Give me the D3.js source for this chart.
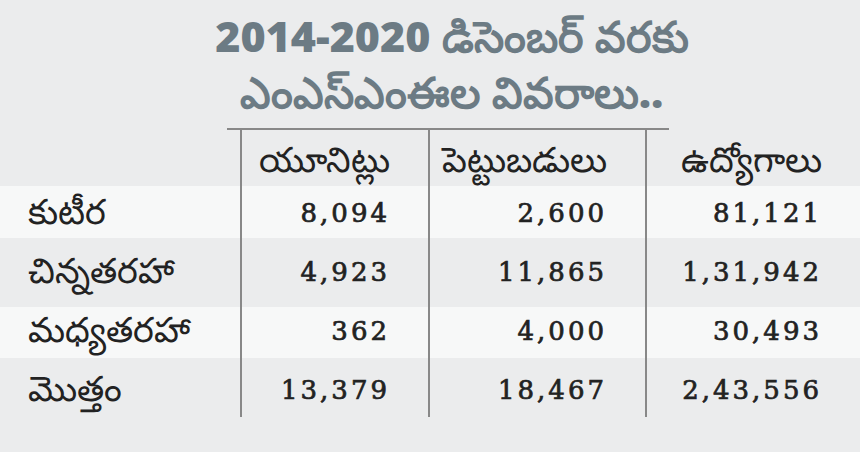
<!DOCTYPE html><html><head><meta charset="utf-8"><script src="https://cdn.jsdelivr.net/npm/d3@7"></script>
<style>body{margin:0;background:#ebeced}</style></head><body><svg id="c" width="860" height="452"></svg>
<script>
const titleLines=["2014-2020 డిసెంబర్ వరకు","ఎంఎస్‌ఎంఈల వివరాలు.."];
const columns=["యూనిట్లు","పెట్టుబడులు","ఉద్యోగాలు"];
const categories=["కుటీర","చిన్నతరహా","మధ్యతరహా","మొత్తం"];
const units=["8,094","4,923","362","13,379"];
const investments=["2,600","11,865","4,000","18,467"];
const jobs=["81,121","1,31,942","30,493","2,43,556"];
const svg=d3.select("#c");
svg.append("rect").attr("width",860).attr("height",452).attr("fill","#ebeced");
const bands=[[186,238,"#f7f8f8"],[238,307,"#ebeced"],[307,358,"#f7f8f8"]];
svg.selectAll(".b").data(bands).join("rect").attr("x",0).attr("width",860).attr("y",d=>d[0]).attr("height",d=>d[1]-d[0]).attr("fill",d=>d[2]);
svg.selectAll(".t").data(titleLines).join("text").attr("x",452).attr("y",(d,i)=>52+i*56).attr("text-anchor","middle")
 .attr("font-family","Noto Sans, DejaVu Sans, sans-serif").attr("font-weight","900").attr("font-size",43).attr("fill","#6c7b84").text(d=>d);
const g="#888";
svg.append("line").attr("x1",227).attr("x2",669).attr("y1",129).attr("y2",129).attr("stroke",g).attr("stroke-width",2);
[241,429,646].forEach(x=>svg.append("line").attr("x1",x).attr("x2",x).attr("y1",129).attr("y2",417).attr("stroke",g).attr("stroke-width",2));
const colX=[390,607,822];
const rowY=[224,283,342,401];
const tel="Noto Sans, DejaVu Sans, sans-serif";
svg.selectAll(".h").data(columns).join("text").attr("x",(d,i)=>colX[i]).attr("y",172).attr("text-anchor","end")
 .attr("font-family",tel).attr("font-size",35).attr("fill","#222").text(d=>d);
svg.selectAll(".r").data(categories).join("text").attr("x",28).attr("y",(d,i)=>rowY[i]).attr("font-family",tel).attr("font-size",35).attr("fill","#222").text(d=>d);
[units,investments,jobs].forEach((col,c)=>{
 svg.selectAll(".v"+c).data(col).join("text").attr("x",colX[c]).attr("y",(d,i)=>rowY[i]-2).attr("text-anchor","end")
  .attr("font-family","DejaVu Serif, Liberation Serif, serif").attr("font-size",26).attr("stroke","#222").attr("stroke-width",0.7).attr("letter-spacing",3).attr("fill","#222").text(d=>d);
});
</script></body></html>
